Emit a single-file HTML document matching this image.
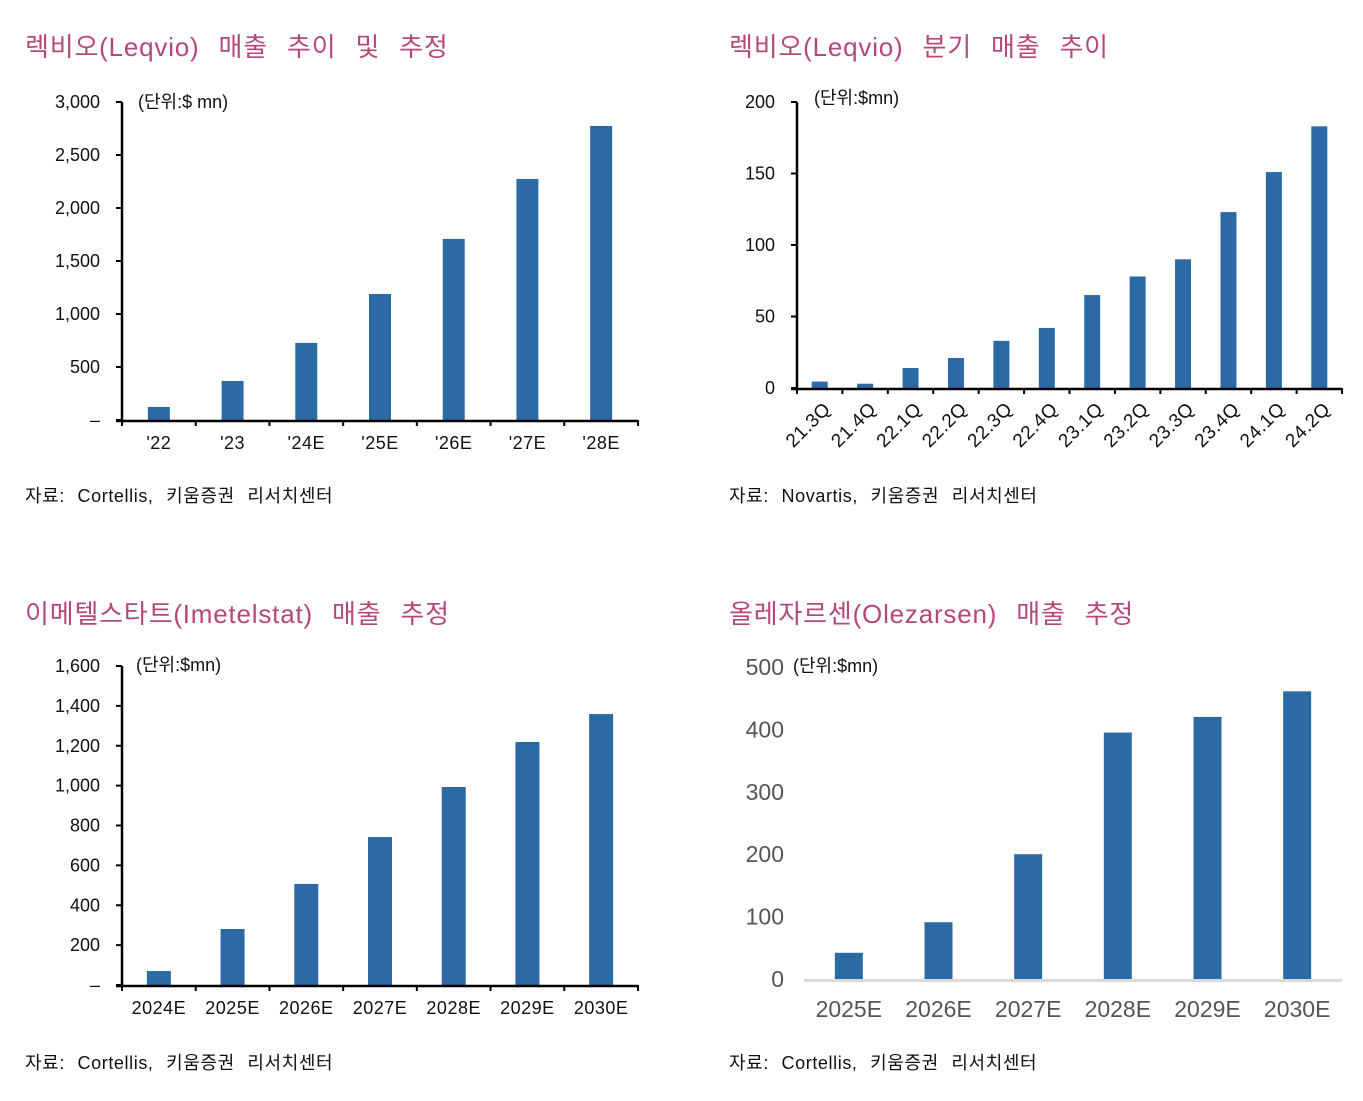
<!DOCTYPE html>
<html><head><meta charset="utf-8"><style>
html,body{margin:0;padding:0;background:#fff;}
svg{display:block;font-family:"Liberation Sans","Noto Sans CJK KR",sans-serif;}
.t{fill:#b5487a;font-size:26px;word-spacing:11px;letter-spacing:0.8px;}
.s{fill:#111;font-size:18px;word-spacing:7px;letter-spacing:0.6px;}
.lab{fill:#111;font-size:18px;}
</style></head><body>
<svg id="svg" width="1363" height="1101" viewBox="0 0 1363 1101">
<text class="t" x="25" y="56">렉비오(Leqvio) 매출 추이 및 추정</text>
<text class="t" x="729" y="56">렉비오(Leqvio) 분기 매출 추이</text>
<text class="t" x="25" y="623">이메텔스타트(Imetelstat) 매출 추정</text>
<text class="t" x="729" y="623">올레자르센(Olezarsen) 매출 추정</text>
<text class="s" x="25" y="502">자료: Cortellis, 키움증권 리서치센터</text>
<text class="s" x="729" y="502">자료: Novartis, 키움증권 리서치센터</text>
<text class="s" x="25" y="1069">자료: Cortellis, 키움증권 리서치센터</text>
<text class="s" x="729" y="1069">자료: Cortellis, 키움증권 리서치센터</text>
<text class="lab" x="138" y="108">(단위:$ mn)</text>
<text class="lab" x="814" y="104">(단위:$mn)</text>
<text class="lab" x="136" y="671">(단위:$mn)</text>
<text class="lab" x="793" y="672">(단위:$mn)</text>
</svg>
<script>
const c1Cats=["'22","'23","'24E","'25E","'26E","'27E","'28E"];
const c1Vals=[123,368,727,1189,1708,2274,2774];
const c1Ticks=["–","500","1,000","1,500","2,000","2,500","3,000"];
const c2Cats=["21.3Q","21.4Q","22.1Q","22.2Q","22.3Q","22.4Q","23.1Q","23.2Q","23.3Q","23.4Q","24.1Q","24.2Q"];
const c2Vals=[4.5,3,14,21,33,42,65,78,90,123,151,183];
const c2Ticks=["0","50","100","150","200"];
const c3Cats=["2024E","2025E","2026E","2027E","2028E","2029E","2030E"];
const c3Vals=[70,281,507,742,993,1219,1359];
const c3Ticks=["–","200","400","600","800","1,000","1,200","1,400","1,600"];
const c4Cats=["2025E","2026E","2027E","2028E","2029E","2030E"];
const c4Vals=[42,91,200,395,420,461];
const c4Ticks=["0","100","200","300","400","500"];

const svg=document.getElementById('svg');
const NS="http://www.w3.org/2000/svg";
function mk(tag,attrs,txt){const e=document.createElementNS(NS,tag);for(const k in attrs)e.setAttribute(k,attrs[k]);if(txt!==undefined)e.textContent=txt;svg.appendChild(e);return e;}

function chart(o){
  const {id,cats,vals,ticks,x0,x1,y0,yTop,max,step,bw,style}=o;
  const ys=v=>y0-(v/max)*(y0-yTop);
  const cw=(x1-x0)/cats.length;
  const xc=i=>x0+cw*(i+0.5);
  ticks.forEach((t,i)=>{
    const y=ys(i*step);
    const lab=mk('text',{x:style==='flat'?784:x0-22,y:y+(style==='flat'?8:6),'text-anchor':'end',fill:style==='flat'?'#555':'#111','font-size':style==='flat'?'23px':'18px'},t);
    
    
    if(style!=='flat'){
      const tk=mk('line',{x1:x0-6,x2:x0,y1:y,y2:y,stroke:'#000','stroke-width':2});
      
      
    }
  });
  vals.forEach((v,i)=>{
    const r=mk('rect',{x:xc(i)-bw/2,y:ys(v),width:bw,height:y0-ys(v),fill:'#2c6aa6'});
    
    
  });
  if(style==='flat'){
    const b=mk('line',{x1:x0,x2:x1,y1:y0+1.5,y2:y0+1.5,stroke:'#d9d9d9','stroke-width':3});
    
    
  }else{
    const ya=mk('line',{x1:x0,x2:x0,y1:yTop,y2:y0+1,stroke:'#000','stroke-width':2.5});
    
    
    const xa=mk('line',{x1:x0-6,x2:x1,y1:y0+1,y2:y0+1,stroke:'#000','stroke-width':2.5});
    
    
    for(let i=0;i<=cats.length;i++){
      const tk=mk('line',{x1:x0+cw*i,x2:x0+cw*i,y1:y0,y2:y0+6,stroke:'#000','stroke-width':2});
      
      
    }
  }
  cats.forEach((c,i)=>{
    let t;
    if(style==='rot'){
      const ax=xc(i)+12, ay=y0+22;
      t=mk('text',{x:ax,y:ay,'text-anchor':'end',fill:'#111','font-size':'19px','letter-spacing':'0.5px',transform:`rotate(-45 ${ax} ${ay})`},c);
    }else if(style==='flat'){
      t=mk('text',{x:xc(i),y:y0+38,'text-anchor':'middle',fill:'#555','font-size':'23px'},c);
    }else{
      t=mk('text',{x:xc(i),y:y0+29,'text-anchor':'middle',fill:'#111','font-size':'18px','letter-spacing':'0.5px'},c);
    }
    
    
  });
}
chart({id:'chart1',cats:c1Cats,vals:c1Vals,ticks:c1Ticks,x0:122,x1:638,y0:420,yTop:102,max:3000,step:500,bw:22});
chart({id:'chart2',cats:c2Cats,vals:c2Vals,ticks:c2Ticks,x0:797,x1:1342,y0:388,yTop:102,max:200,step:50,bw:16,style:'rot'});
chart({id:'chart3',cats:c3Cats,vals:c3Vals,ticks:c3Ticks,x0:122,x1:638,y0:985,yTop:666,max:1600,step:200,bw:24});
chart({id:'chart4',cats:c4Cats,vals:c4Vals,ticks:c4Ticks,x0:804,x1:1342,y0:979,yTop:667,max:500,step:100,bw:28,style:'flat'});
</script>
</body></html>
